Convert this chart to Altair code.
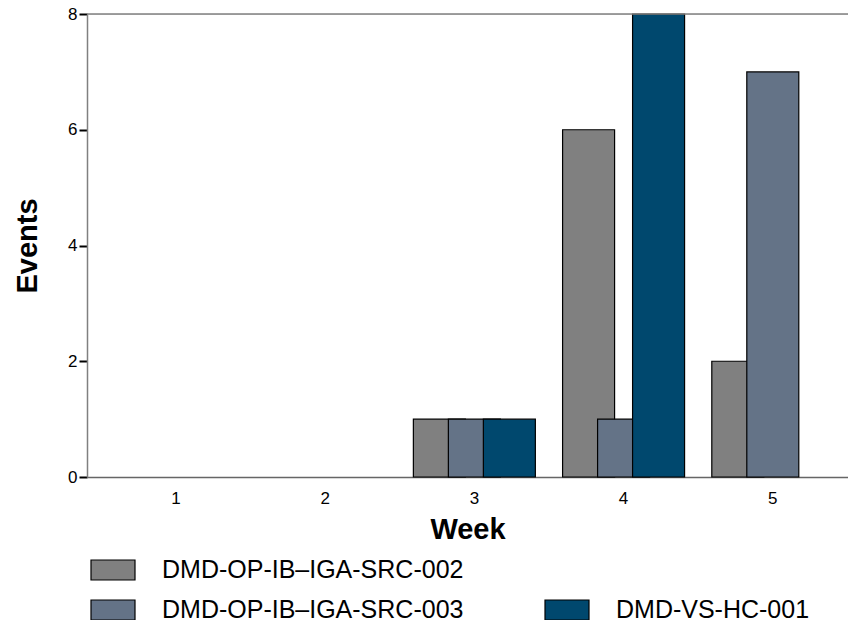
import altair as alt
import pandas as pd

weeks = [1, 2, 3, 4, 5]
series = ["DMD-OP-IB–IGA-SRC-002", "DMD-OP-IB–IGA-SRC-003", "DMD-VS-HC-001"]
values_002 = [0, 0, 1, 6, 2]
values_003 = [0, 0, 1, 1, 7]
values_vs = [0, 0, 1, 8, 0]
colors = ["#808080", "#647387", "#00486E"]

rows = []
for s, vals in zip(series, [values_002, values_003, values_vs]):
    for w, v in zip(weeks, vals):
        rows.append({"week": w, "series": s, "events": v})
df = pd.DataFrame(rows)

# legend is filled column by column (2 rows); a blank slot keeps the first
# column to two entries and leaves the top of the second column empty
blank = " "
legend_domain = [series[0], series[1], blank, series[2]]
legend_fill = [colors[0], colors[1], "#ffffff", colors[2]]
legend_stroke = ["#000000", "#000000", "#ffffff", "#000000"]

FONT = "Liberation Sans"


def make_legend():
    return alt.Legend(
        title=None, orient="none", legendX=3, legendY=533, columns=2,
        direction="vertical", values=legend_domain,
        symbolType="M-1,-0.4545H1V0.4545H-1Z", symbolSize=1936,
        symbolStrokeWidth=1.2, labelFontSize=25, labelFont=FONT,
        labelColor="black", labelOffset=26, labelLimit=0,
        columnPadding=78, rowPadding=4, padding=0,
    )


bars = alt.Chart(df).transform_filter("datum.events > 0").mark_bar(
    width=52, strokeWidth=1.2
).encode(
    x=alt.X(
        "week:O",
        scale=alt.Scale(domain=weeks, paddingInner=0, paddingOuter=0.05, align=0.96),
        axis=alt.Axis(title="Week", labelAngle=0, ticks=False, labelPadding=13,
                      labelFontSize=17, domainColor="#666666", domainWidth=1.5),
    ),
    xOffset=alt.XOffset(
        "series:N",
        scale=alt.Scale(domain=series, paddingInner=0, paddingOuter=0.632),
    ),
    y=alt.Y(
        "events:Q",
        scale=alt.Scale(domain=[0, 8], nice=False),
        axis=alt.Axis(title="Events", values=[0, 2, 4, 6, 8], format="d",
                      grid=False, tickColor="black", tickWidth=2, tickSize=8,
                      labelPadding=2, labelFontSize=17, titlePadding=25,
                      domainColor="#808080", domainWidth=1.5),
    ),
    color=alt.Color(
        "series:N",
        scale=alt.Scale(domain=legend_domain, range=legend_fill),
        legend=make_legend(),
    ),
    stroke=alt.Stroke(
        "series:N",
        scale=alt.Scale(domain=legend_domain, range=legend_stroke),
        legend=make_legend(),
    ),
    order=alt.Order("series:N"),
)

top_line = alt.Chart(pd.DataFrame({"y": [8]})).mark_rule(
    color="#808080", strokeWidth=1.5
).encode(y=alt.Y("y:Q", axis=None))

chart = alt.layer(bars, top_line).resolve_axis(y="independent").properties(
    width=761, height=463,
    autosize=alt.AutoSizeParams(type="none"),
    padding={"left": 79, "top": 6, "right": 0, "bottom": 143},
).configure_view(stroke=None).configure(font=FONT).configure_axis(
    labelFontSize=17, labelColor="black", labelFont=FONT,
    titleFont=FONT, titleFontSize=29, titleFontWeight="bold", titleColor="black",
).configure_axisX(titlePadding=9)

chart.save("out.html", embed_options={"renderer": "svg", "actions": False})
